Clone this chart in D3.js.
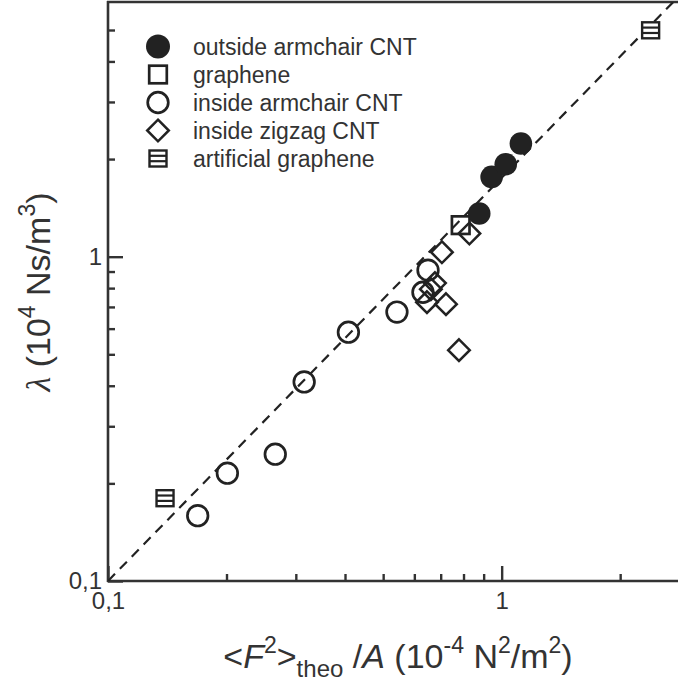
<!DOCTYPE html>
<html><head><meta charset="utf-8">
<script src="https://cdn.jsdelivr.net/npm/d3@7"></script>
<style>
html,body{margin:0;padding:0;background:#fff;}
svg{display:block;font-family:"Liberation Sans",Arial,sans-serif;}
</style></head>
<body><svg id="c" width="678" height="682"></svg>
<script>
// ---- data ----
const outsideX = [0.877, 0.943, 1.024, 1.119];
const outsideY = [1.359, 1.762, 1.928, 2.234];
const grapheneX = [0.787];
const grapheneY = [1.251];
const insideArmX = [0.169, 0.201, 0.266, 0.315, 0.408, 0.542, 0.631, 0.650];
const insideArmY = [0.159, 0.215, 0.246, 0.411, 0.585, 0.675, 0.777, 0.909];
const zigzagX = [0.705, 0.828, 0.677, 0.661, 0.646, 0.722, 0.779];
const zigzagY = [1.032, 1.179, 0.829, 0.794, 0.724, 0.714, 0.515];
const artX = [0.1396, 2.39];
const artY = [0.180, 4.99];
const fitX = [0.1, 2.75];
const fitY = [0.1, 6.16];
const xMinorTicks = [0.2,0.3,0.4,0.5,0.6,0.7,0.8,0.9,2];
const yMinorTicks = [0.2,0.3,0.4,0.5,0.6,0.7,0.8,0.9,2,3,4,5];
const majorTicks = [0.1, 1];
const tickLabels = ["0,1", "1"];
const legendLabels = ["outside armchair CNT","graphene","inside armchair CNT","inside zigzag CNT","artificial graphene"];
const legendKeys = ["fcircle","square","circle","diamond","art"];

// ---- chart ----
const svg = d3.select("#c");
const ink = "#222";
const x = d3.scaleLog().domain([0.1, 2.9]).range([108, 683.7]);
const y = d3.scaleLog().domain([0.1, 6.1]).range([581, 2]);

svg.append("defs").append("clipPath").attr("id","clip")
  .append("rect").attr("x",108).attr("y",2).attr("width",576).attr("height",579);

// frame
const frame = svg.append("g").attr("stroke","#333").attr("stroke-width",2.6).attr("fill","none");
frame.append("line").attr("x1",x(0.1)).attr("x2",x(0.1)).attr("y1",y(6.1)-1).attr("y2",y(0.1)+1);
frame.append("line").attr("x1",x(0.1)-1).attr("x2",x(2.9)).attr("y1",y(0.1)).attr("y2",y(0.1));
frame.append("line").attr("x1",x(0.1)-1).attr("x2",x(2.9)).attr("y1",y(6.1)).attr("y2",y(6.1));

const fmt = d => tickLabels[majorTicks.indexOf(d)];
function styleAxis(g){
  g.select(".domain").remove();
  g.selectAll(".tick line").attr("stroke","#333").attr("stroke-width",2.4);
  g.selectAll(".tick text").attr("fill","#333").style("font-size","24px").style("font-family","Liberation Sans, Arial, sans-serif");
}
svg.append("g").attr("transform",`translate(0,${y(0.1)})`)
  .call(d3.axisBottom(x).tickValues(xMinorTicks).tickSize(-7).tickFormat(""))
  .call(styleAxis);
svg.append("g").attr("transform",`translate(0,${y(0.1)})`)
  .call(d3.axisBottom(x).tickValues(majorTicks).tickSize(-15).tickPadding(11).tickFormat(fmt))
  .call(styleAxis);
svg.append("g").attr("transform",`translate(${x(0.1)},0)`)
  .call(d3.axisLeft(y).tickValues(yMinorTicks).tickSize(-7).tickFormat(""))
  .call(styleAxis);
svg.append("g").attr("transform",`translate(${x(0.1)},0)`)
  .call(d3.axisLeft(y).tickValues(majorTicks).tickSize(-15).tickPadding(6).tickFormat(fmt))
  .call(styleAxis);

// dashed fit line
svg.append("path").attr("clip-path","url(#clip)")
  .datum(fitX.map((v,i)=>[v,fitY[i]]))
  .attr("d", d3.line().x(d=>x(d[0])).y(d=>y(d[1])))
  .attr("fill","none").attr("stroke",ink).attr("stroke-width",2.2).attr("stroke-dasharray","10,7");

// marker drawing
function drawMarker(g, type, big){
  if(type==="fcircle"){
    g.append("circle").attr("r",big?12:11.3).attr("fill",ink);
  } else if(type==="circle"){
    g.append("circle").attr("r",10.3).attr("fill","none").attr("stroke",ink).attr("stroke-width",2.7);
  } else if(type==="square"){
    g.append("rect").attr("x",-8.8).attr("y",-8.8).attr("width",17.6).attr("height",17.6)
      .attr("fill","none").attr("stroke",ink).attr("stroke-width",2.7);
  } else if(type==="diamond"){
    g.append("path").attr("d","M0,-10.8L10.8,0L0,10.8L-10.8,0Z")
      .attr("fill","none").attr("stroke",ink).attr("stroke-width",2.5);
  } else if(type==="art"){
    g.append("rect").attr("x",-8.5).attr("y",-8).attr("width",17).attr("height",16)
      .attr("fill","#fff").attr("stroke",ink).attr("stroke-width",2.4);
    g.append("line").attr("x1",-8.5).attr("x2",8.5).attr("y1",-2.7).attr("y2",-2.7).attr("stroke",ink).attr("stroke-width",2.2);
    g.append("line").attr("x1",-8.5).attr("x2",8.5).attr("y1",2.7).attr("y2",2.7).attr("stroke",ink).attr("stroke-width",2.2);
  }
}
function series(xs, ys, type){
  const g = svg.append("g");
  xs.forEach((v,i)=>{
    const m = g.append("g").attr("transform",`translate(${x(v)},${y(ys[i])})`);
    drawMarker(m, type, false);
  });
}
series(insideArmX, insideArmY, "circle");
series(zigzagX, zigzagY, "diamond");
series(grapheneX, grapheneY, "square");
series(outsideX, outsideY, "fcircle");
series(artX, artY, "art");

// legend
const lg = svg.append("g");
legendLabels.forEach((t,i)=>{
  const cy = 46.5 + i*28;
  const m = lg.append("g").attr("transform",`translate(158,${cy})`);
  drawMarker(m, legendKeys[i], true);
  lg.append("text").attr("x",193).attr("y",cy+8).attr("fill","#333")
    .style("font-size","23px").text(t);
});

// axis titles
const xt = svg.append("text").attr("x",398).attr("y",668).attr("text-anchor","middle")
  .attr("fill","#333").style("font-size","34px");
xt.append("tspan").text("<");
xt.append("tspan").style("font-style","italic").text("F");
xt.append("tspan").attr("dy",-15).style("font-size","23px").text("2");
xt.append("tspan").attr("dy",15).text(">");
xt.append("tspan").attr("dy",9).style("font-size","24px").text("theo");
xt.append("tspan").attr("dy",-9).text(" /");
xt.append("tspan").style("font-style","italic").text("A");
xt.append("tspan").text(" (10");
xt.append("tspan").attr("dy",-15).style("font-size","23px").text("-4");
xt.append("tspan").attr("dy",15).text(" N");
xt.append("tspan").attr("dy",-15).style("font-size","23px").text("2");
xt.append("tspan").attr("dy",15).text("/m");
xt.append("tspan").attr("dy",-15).style("font-size","23px").text("2");
xt.append("tspan").attr("dy",15).text(")");

const yt = svg.append("text").attr("transform","translate(50,292) rotate(-90)")
  .attr("text-anchor","middle").attr("fill","#333").style("font-size","34px");
yt.append("tspan").style("font-style","italic").style("font-family","Liberation Serif, serif").text("λ");
yt.append("tspan").text(" (10");
yt.append("tspan").attr("dy",-15).style("font-size","23px").text("4");
yt.append("tspan").attr("dy",15).text(" Ns/m");
yt.append("tspan").attr("dy",-15).style("font-size","23px").text("3");
yt.append("tspan").attr("dy",15).text(")");
</script></body></html>
